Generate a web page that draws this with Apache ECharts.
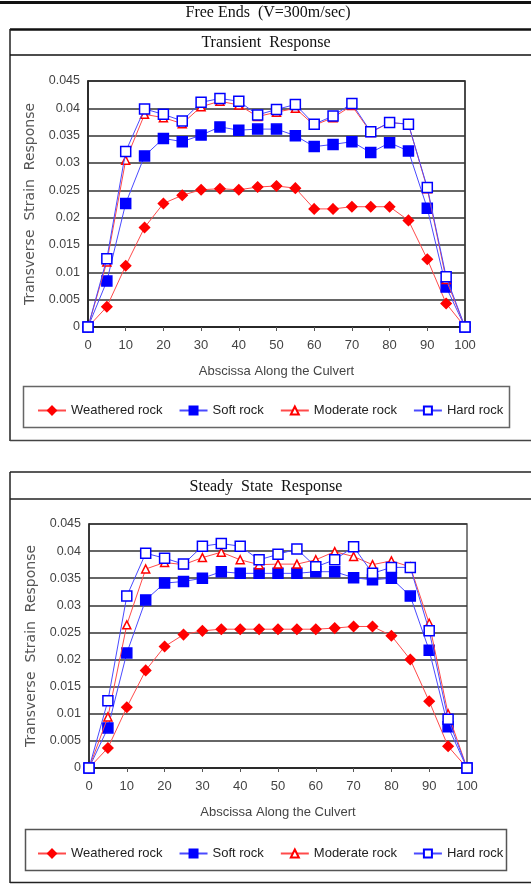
<!DOCTYPE html>
<html>
<head>
<meta charset="utf-8">
<script src="https://cdnjs.cloudflare.com/ajax/libs/echarts/6.0.0/echarts.min.js"></script>
<style>
  html, body { margin: 0; padding: 0; background: #fff; }
  #main { width: 531px; height: 884px; }
</style>
</head>
<body>
<div id="main"></div>
<script>
// abscissa along the culvert
const xs = [0, 5, 10, 15, 20, 25, 30, 35, 40, 45, 50, 55, 60, 65, 70, 75, 80, 85, 90, 95, 100];
const seriesNames = ['Weathered rock', 'Soft rock', 'Moderate rock', 'Hard rock'];

// transient response
const transWeathered = [0, 0.0037, 0.0112, 0.0182, 0.0226, 0.0241, 0.0251, 0.0253, 0.0251, 0.0256, 0.0258, 0.0254, 0.0216, 0.0216, 0.0220, 0.0220, 0.0220, 0.0195, 0.0124, 0.0043, 0];
const transSoft = [0, 0.0084, 0.0226, 0.0313, 0.0345, 0.0339, 0.0351, 0.0366, 0.0360, 0.0362, 0.0362, 0.0350, 0.0330, 0.0334, 0.0339, 0.0319, 0.0337, 0.0322, 0.0217, 0.0073, 0];
const transModerate = [0, 0.0119, 0.0305, 0.0389, 0.0383, 0.0372, 0.0403, 0.0413, 0.0406, 0.0385, 0.0393, 0.0400, 0.0369, 0.0383, 0.0405, 0.0356, 0.0374, 0.0371, 0.0253, 0.0087, 0];
const transHard = [0, 0.0125, 0.0321, 0.0399, 0.0389, 0.0377, 0.0411, 0.0418, 0.0413, 0.0388, 0.0398, 0.0407, 0.0371, 0.0386, 0.0409, 0.0357, 0.0374, 0.0371, 0.0255, 0.0092, 0];

// steady state response
const steadyWeathered = [0, 0.0037, 0.0112, 0.0180, 0.0224, 0.0246, 0.0253, 0.0256, 0.0256, 0.0256, 0.0256, 0.0256, 0.0256, 0.0258, 0.0261, 0.0261, 0.0244, 0.0200, 0.0123, 0.0040, 0];
const steadySoft = [0, 0.0074, 0.0212, 0.0310, 0.0341, 0.0344, 0.0350, 0.0362, 0.0359, 0.0359, 0.0359, 0.0359, 0.0362, 0.0362, 0.0351, 0.0347, 0.0350, 0.0317, 0.0217, 0.0076, 0];
const steadyModerate = [0, 0.0094, 0.0264, 0.0367, 0.0379, 0.0375, 0.0388, 0.0398, 0.0384, 0.0375, 0.0376, 0.0376, 0.0384, 0.0399, 0.0390, 0.0375, 0.0382, 0.0371, 0.0267, 0.0100, 0];
const steadyHard = [0, 0.0124, 0.0317, 0.0396, 0.0387, 0.0376, 0.0409, 0.0414, 0.0409, 0.0384, 0.0394, 0.0404, 0.0371, 0.0384, 0.0408, 0.0359, 0.0370, 0.0370, 0.0253, 0.0090, 0];

const chart = echarts.init(document.getElementById('main'));

const sans = 'Liberation Sans';
const serif = 'Liberation Serif';

function pairs(vals) {
    return xs.map((x, i) => [x, vals[i]]);
}

// marker + line look for each rock type
const looks = [
    { symbol: 'diamond', size: 10, line: '#ff4a4a', color: '#ff0000', fill: '#ff0000' },
    { symbol: 'rect', size: 10, line: '#4a4aff', color: '#0000ff', fill: '#0000ff' },
    { symbol: 'triangle', size: 8, line: '#ff4a4a', color: '#ff0000', fill: '#ffffff' },
    { symbol: 'rect', size: 10, line: '#4a4aff', color: '#0000ff', fill: '#ffffff' }
];

function makeSeries(gridIdx, sets) {
    return sets.map((vals, k) => ({
        name: seriesNames[k],
        type: 'line',
        xAxisIndex: gridIdx,
        yAxisIndex: gridIdx,
        data: pairs(vals),
        symbol: looks[k].symbol,
        symbolSize: looks[k].size,
        showAllSymbol: true,
        lineStyle: { color: looks[k].line, width: 1 },
        itemStyle: { color: looks[k].fill, borderColor: looks[k].color, borderWidth: 1.5 },
        emphasis: { disabled: true },
        animation: false,
        z: 3 + k
    }));
}

function xAxisCfg(gridIdx) {
    return {
        type: 'value', gridIndex: gridIdx, min: 0, max: 100, interval: 10,
        name: 'Abscissa Along the Culvert', nameLocation: 'middle', nameGap: 38,
        nameTextStyle: { fontFamily: sans, fontSize: 13, color: '#444' },
        axisLine: { lineStyle: { color: '#222', width: 1.5 } },
        axisTick: { show: true, inside: false, length: 4, lineStyle: { color: '#555' } },
        axisLabel: { fontFamily: sans, fontSize: 13, color: '#444', margin: 12 },
        splitLine: { show: false }
    };
}

function yAxisCfg(gridIdx) {
    return {
        type: 'value', gridIndex: gridIdx, min: 0, max: 0.045, interval: 0.005,
        name: 'Transverse  Strain  Response', nameLocation: 'middle', nameGap: 46,
        nameTextStyle: { fontFamily: 'DejaVu Sans', fontSize: 14, color: '#555' },
        axisLine: { show: true, lineStyle: { color: '#222', width: 1.5 } },
        axisTick: { show: false },
        axisLabel: { fontFamily: sans, fontSize: 12.5, color: '#444', margin: 8 },
        splitLine: { show: true, lineStyle: { color: '#333', width: 1.5 } }
    };
}

function legendCfg(top) {
    return {
        data: seriesNames,
        left: 32, top: top, width: 500,
        itemWidth: 28, itemHeight: 10, itemGap: 16,
        textStyle: { fontFamily: sans, fontSize: 13, color: '#222' },
        selectedMode: false
    };
}

const frame = { type: 'line', silent: true };

const option = {
    animation: false,
    grid: [
        { left: 88, top: 81, width: 377, height: 246, show: true, borderColor: '#111', borderWidth: 1.5, backgroundColor: 'transparent' },
        { left: 89, top: 524, width: 378, height: 244, show: true, borderColor: '#555', borderWidth: 1.5, backgroundColor: 'transparent' }
    ],
    xAxis: [xAxisCfg(0), xAxisCfg(1)],
    yAxis: [yAxisCfg(0), yAxisCfg(1)],
    legend: [legendCfg(399), legendCfg(842)],
    series: makeSeries(0, [transWeathered, transSoft, transModerate, transHard])
        .concat(makeSeries(1, [steadyWeathered, steadySoft, steadyModerate, steadyHard])),
    graphic: [
        // page header
        Object.assign({}, frame, { shape: { x1: 0, y1: 2.5, x2: 531, y2: 2.5 }, style: { stroke: '#111', lineWidth: 3 } }),
        { type: 'text', x: 268, y: 13, style: { text: 'Free Ends  (V=300m/sec)', font: '16px ' + serif, fill: '#111', textAlign: 'center', textVerticalAlign: 'middle' } },
        // transient box
        Object.assign({}, frame, { shape: { x1: 10, y1: 29.5, x2: 531, y2: 29.5 }, style: { stroke: '#111', lineWidth: 2.5 } }),
        Object.assign({}, frame, { shape: { x1: 10, y1: 29, x2: 10, y2: 441 }, style: { stroke: '#222', lineWidth: 1.5 } }),
        Object.assign({}, frame, { shape: { x1: 10, y1: 55, x2: 531, y2: 55 }, style: { stroke: '#111', lineWidth: 1.5 } }),
        Object.assign({}, frame, { shape: { x1: 10, y1: 440.5, x2: 531, y2: 440.5 }, style: { stroke: '#444', lineWidth: 1.5 } }),
        { type: 'text', x: 266, y: 43, style: { text: 'Transient  Response', font: '16px ' + serif, fill: '#111', textAlign: 'center', textVerticalAlign: 'middle' } },
        { type: 'rect', silent: true, shape: { x: 23.5, y: 386.5, width: 486, height: 41 }, style: { fill: 'none', stroke: '#666', lineWidth: 1.5 } },
        // steady state box
        Object.assign({}, frame, { shape: { x1: 10, y1: 472, x2: 531, y2: 472 }, style: { stroke: '#222', lineWidth: 1.5 } }),
        Object.assign({}, frame, { shape: { x1: 10, y1: 472, x2: 10, y2: 883 }, style: { stroke: '#222', lineWidth: 1.5 } }),
        Object.assign({}, frame, { shape: { x1: 10, y1: 499, x2: 531, y2: 499 }, style: { stroke: '#222', lineWidth: 1.5 } }),
        Object.assign({}, frame, { shape: { x1: 10, y1: 882.5, x2: 531, y2: 882.5 }, style: { stroke: '#222', lineWidth: 1.5 } }),
        { type: 'text', x: 266, y: 487, style: { text: 'Steady  State  Response', font: '16px ' + serif, fill: '#111', textAlign: 'center', textVerticalAlign: 'middle' } },
        { type: 'rect', silent: true, shape: { x: 25.5, y: 829.5, width: 481, height: 41 }, style: { fill: 'none', stroke: '#555', lineWidth: 1.5 } }
    ]
};

chart.setOption(option);
</script>
</body>
</html>
